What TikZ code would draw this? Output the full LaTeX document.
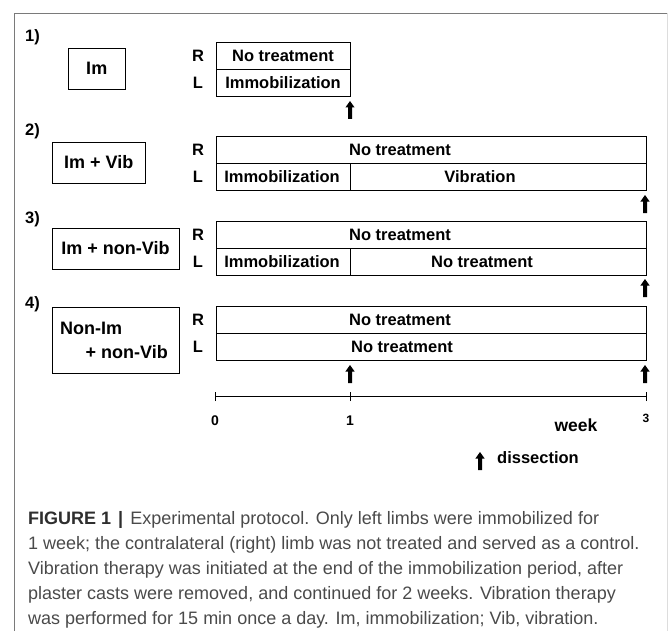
\documentclass[tikz,border=0pt]{standalone}
\usepackage{fontspec}
\setmainfont{Liberation Sans}
\usetikzlibrary{arrows.meta}
\definecolor{framegray}{HTML}{7A7A7A}
\definecolor{edgegray}{HTML}{DDDDDD}
\definecolor{capgray}{HTML}{4A4A4A}
\definecolor{capdark}{HTML}{2E2E2E}
\begin{document}
\begin{tikzpicture}[x=1pt,y=-1pt,
  cell/.style={draw=black, line width=0.9pt, anchor=north west, minimum height=27pt, inner sep=0, outer sep=0},
  grpbox/.style={draw=black, line width=0.9pt, anchor=north west, inner sep=0, outer sep=0,
                 font=\fontsize{18}{21}\selectfont\bfseries},
  txt/.style={font=\fontsize{16.5}{19}\selectfont\bfseries, anchor=base, inner sep=0},
  btxt/.style={font=\fontsize{18}{21}\selectfont\bfseries, anchor=base, inner sep=0},
  numtxt/.style={font=\fontsize{14}{16}\selectfont\bfseries, anchor=base, inner sep=0},
  captxt/.style={font=\fontsize{18}{22}\selectfont, text=capgray, anchor=base west, inner sep=0},
  uparrow/.pic={\fill[black] (-2,0) -- (-2,-11.5) -- (-4.6,-11.5) -- (0,-18) -- (4.6,-11.5) -- (2,-11.5) -- (2,0) -- cycle;}
]
\useasboundingbox (0,0) rectangle (668,631);
% outer frame
\coordinate (fTL) at (14.5,13.5);
\coordinate (fTR) at (667.5,13.5);
\coordinate (fBL) at (14.5,631);
\coordinate (fBR) at (667.5,631);
\draw[framegray, line width=1.1pt] (fBL) -- (fTL) -- (fTR);
\draw[edgegray, line width=0.8pt] (fTR) -- (fBR);

% group labels
\node[txt, anchor=base west] (n1) at (25,42) {1)};
\node[txt, anchor=base west] (n2) at (25,136) {2)};
\node[txt, anchor=base west] (n3) at (25,223) {3)};
\node[txt, anchor=base west] (n4) at (25,308) {4)};

% group boxes
\node[grpbox, minimum width=57.5pt, minimum height=41pt] (b1) at (68,48) {Im};
\node[grpbox, minimum width=93.5pt, minimum height=41pt] (b2) at (52,142) {Im + Vib};
\node[grpbox, minimum width=127pt, minimum height=41pt] (b3) at (52,228) {Im + non-Vib};
\node[grpbox, minimum width=127pt, minimum height=66pt] (b4) at (52,307) {};
\node[btxt, anchor=base west] (b4a) at (60,334.5) {Non-Im};
\node[btxt, anchor=base east] (b4b) at (168,358.5) {+ non-Vib};

% R / L labels
\node[txt] (r1) at (198,61.5) {R};
\node[txt] (l1) at (198,88.5) {L};
\node[txt] (r2) at (198,155.5) {R};
\node[txt] (l2) at (198,182.5) {L};
\node[txt] (r3) at (198,240.5) {R};
\node[txt] (l3) at (198,267.5) {L};
\node[txt] (r4) at (198,325.5) {R};
\node[txt] (l4) at (198,352.5) {L};

% group 1 table
\node[cell, minimum width=134pt] (g1R) at (216,42) {};
\node[cell, minimum width=134pt] (g1L) at (216,69) {};
\node[txt] (g1Rt) at (283,61.5) {No treatment};
\node[txt] (g1Lt) at (283,88.5) {Immobilization};

% group 2 table
\node[cell, minimum width=430pt] (g2R) at (216,136) {};
\node[cell, minimum width=134pt] (g2La) at (216,163) {};
\node[cell, minimum width=296pt] (g2Lb) at (350,163) {};
\node[txt] (g2Rt) at (400,155.5) {No treatment};
\node[txt] (g2Lat) at (282,182.5) {Immobilization};
\node[txt] (g2Lbt) at (480,182.5) {Vibration};

% group 3 table
\node[cell, minimum width=430pt] (g3R) at (216,221) {};
\node[cell, minimum width=134pt] (g3La) at (216,248) {};
\node[cell, minimum width=296pt] (g3Lb) at (350,248) {};
\node[txt] (g3Rt) at (400,240.5) {No treatment};
\node[txt] (g3Lat) at (282,267.5) {Immobilization};
\node[txt] (g3Lbt) at (482,267.5) {No treatment};

% group 4 table
\node[cell, minimum width=430pt] (g4R) at (216,306) {};
\node[cell, minimum width=430pt] (g4L) at (216,333) {};
\node[txt] (g4Rt) at (400,325.5) {No treatment};
\node[txt] (g4Lt) at (402,352.5) {No treatment};

% dissection arrows
\pic (a1) at (350,119) {uparrow};
\pic (a2) at (645,213) {uparrow};
\pic (a3) at (645,297) {uparrow};
\pic (a4) at (350,383) {uparrow};
\pic (a5) at (645,383) {uparrow};

% timeline
\coordinate (t0) at (215,396.5);
\coordinate (t1) at (350,396.5);
\coordinate (t3) at (646,396.5);
\draw[line width=1.3pt] (t0) -- (t3);
\foreach \t in {t0,t1,t3}{\draw[line width=1pt] ([yshift=-4.5pt]\t) -- ([yshift=4.5pt]\t);}
\node[numtxt] (w0) at (215,425) {0};
\node[numtxt] (w1) at (350,425) {1};
\node[font=\fontsize{12}{14}\selectfont\bfseries, anchor=base, inner sep=0] (w3) at (646,422.5) {3};
\node[font=\fontsize{17.5}{20}\selectfont\bfseries, anchor=base, inner sep=0] (wk) at (576,431) {week};

% legend
\pic (leg) at (480,470) {uparrow};
\node[txt, anchor=base west] (dis) at (497,463) {dissection};

% caption
\node[captxt] (cap1) at (28,524) {\textcolor{capdark}{\bfseries FIGURE 1\hspace{7pt}|}\hspace{7pt}Experimental protocol. Only left limbs were immobilized for};
\node[captxt] (cap2) at (28,549) {1 week; the contralateral (right) limb was not treated and served as a control.};
\node[captxt] (cap3) at (28,574) {Vibration therapy was initiated at the end of the immobilization period, after};
\node[captxt] (cap4) at (28,599) {plaster casts were removed, and continued for 2 weeks. Vibration therapy};
\node[captxt] (cap5) at (28,624) {was performed for 15 min once a day. Im, immobilization; Vib, vibration.};
\end{tikzpicture}
\end{document}
